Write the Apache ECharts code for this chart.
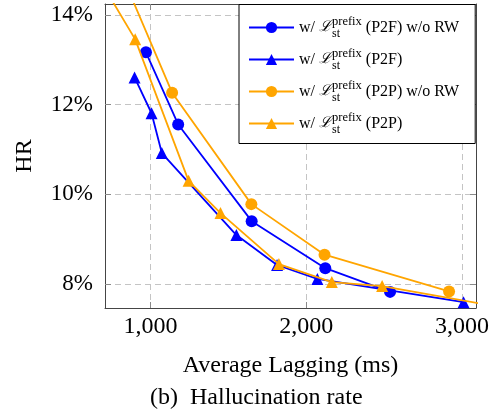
<!DOCTYPE html>
<html>
<head>
<meta charset="utf-8">
<script src="https://cdn.jsdelivr.net/npm/echarts@6/dist/echarts.min.js"></script>
<style>
html,body{margin:0;padding:0;background:#fff;}
#chart{width:492px;height:414px;}
</style>
</head>
<body>
<div id="chart"></div>
<script>
// Data
const p2fNoRW_x = [970, 1177, 1649, 2122, 2538];
const p2fNoRW_y = [13.17, 11.56, 9.40, 8.35, 7.82];
const p2f_x = [897, 1006, 1072, 1551, 1812, 2071, 3010];
const p2f_y = [12.61, 11.81, 10.92, 9.09, 8.42, 8.11, 7.59];
const p2pNoRW_x = [850, 1138, 1647, 2117, 2917];
const p2pNoRW_y = [14.62, 12.27, 9.78, 8.65, 7.83];
const p2p_x = [740, 901, 1244, 1449, 1824, 2164, 2487, 3150];
const p2p_y = [14.4, 13.46, 10.30, 9.58, 8.44, 8.04, 7.95, 7.54];

const xTicks = [1000, 2000, 3000];
const yTicks = [8, 10, 12, 14];
const seriesSuffix = ['(P2F) w/o RW', '(P2F)', '(P2P) w/o RW', '(P2P)'];
const seriesNames = seriesSuffix.map(s => 'w/ L_st^prefix ' + s);
const xName = 'Average Lagging (ms)';
const yName = 'HR';
const caption = '(b)  Hallucination rate';

const FONT = 'Liberation Serif';
const BLUE = '#0000ff';
const ORANGE = '#ffa500';

function pairs(xs, ys) { return xs.map((x, i) => [x, ys[i]]); }

const frameColor = '#454545';
const tickColor = '#8a8a8a';
const gridColor = '#c4c4c4';

function mkSeries(i, xs, ys, color, symbol, size) {
  return {
    name: seriesNames[i], type: 'line', data: pairs(xs, ys),
    symbol: symbol, symbolSize: size, showSymbol: true,
    lineStyle: { color: color, width: 1.8 },
    itemStyle: { color: color },
    clip: true, animation: false, z: 2 + i
  };
}

const chart = echarts.init(document.getElementById('chart'), null, { renderer: 'canvas' });
const option = {
  animation: false,
  backgroundColor: '#fff',
  grid: { left: 105, top: 4, right: 15.5, bottom: 106, containLabel: false },
  title: {
    text: caption, left: 150, top: 386,
    textStyle: { fontFamily: FONT, fontSize: 24, fontWeight: 'normal', color: '#000' },
    padding: 0
  },
  legend: {
    orient: 'vertical', left: 239, top: 4.5,
    backgroundColor: '#fff', borderColor: '#000', borderWidth: 1,
    padding: [11, 16, 8, 9],
    itemWidth: 45, itemHeight: 14, itemGap: 8,
    data: seriesNames,
    formatter: function (name) {
      const i = seriesNames.indexOf(name);
      return '{t|w/ }{l|\u2112}{sub|st}{sup|prefix}{t| ' + seriesSuffix[i] + '}';
    },
    textStyle: {
      fontFamily: FONT, fontSize: 16, color: '#000',
      rich: {
        t: { fontFamily: FONT, fontSize: 16, lineHeight: 24, verticalAlign: 'middle' },
        l: { fontFamily: 'DejaVu Serif', fontSize: 15, fontStyle: 'italic', lineHeight: 24, verticalAlign: 'middle', padding: [0, 1, 0, 0] },
        sub: { fontFamily: FONT, fontSize: 12, lineHeight: 14, verticalAlign: 'bottom', width: 0 },
        sup: { fontFamily: FONT, fontSize: 12.5, lineHeight: 12, verticalAlign: 'top' }
      }
    }
  },
  xAxis: [{
    type: 'value', min: 707, max: 3090, position: 'bottom',
    name: xName, nameLocation: 'middle', nameGap: 46,
    nameTextStyle: { fontFamily: FONT, fontSize: 24, color: '#000' },
    axisLine: { show: true, onZero: false, lineStyle: { color: frameColor, width: 1 } },
    axisTick: { show: true, inside: true, length: 6, customValues: xTicks, lineStyle: { color: tickColor, width: 1 } },
    axisLabel: { show: true, customValues: xTicks, margin: 7, fontFamily: FONT, fontSize: 24, color: '#000',
      formatter: v => v.toLocaleString('en-US') },
    splitLine: { show: true, lineStyle: { color: gridColor, width: 1, type: [6, 4] } }
  }, {
    type: 'value', min: 707, max: 3090, position: 'top',
    axisLine: { show: true, onZero: false, lineStyle: { color: frameColor, width: 1 } },
    axisTick: { show: true, inside: true, length: 6, customValues: xTicks, lineStyle: { color: tickColor, width: 1 } },
    axisLabel: { show: false, customValues: xTicks },
    splitLine: { show: false }
  }],
  yAxis: [{
    type: 'value', min: 7.46, max: 14.25, position: 'left',
    name: yName, nameLocation: 'middle', nameGap: 68, nameRotate: 90,
    nameTextStyle: { fontFamily: FONT, fontSize: 24, color: '#000' },
    axisLine: { show: true, onZero: false, lineStyle: { color: frameColor, width: 1 } },
    axisTick: { show: true, inside: true, length: 6, customValues: yTicks, lineStyle: { color: tickColor, width: 1 } },
    axisLabel: { show: true, customValues: yTicks, margin: 12, fontFamily: FONT, fontSize: 23, color: '#000',
      formatter: v => v + '%' },
    splitLine: { show: true, lineStyle: { color: gridColor, width: 1, type: [6, 4] } }
  }, {
    type: 'value', min: 7.46, max: 14.25, position: 'right',
    axisLine: { show: true, onZero: false, lineStyle: { color: frameColor, width: 1 } },
    axisTick: { show: true, inside: true, length: 6, customValues: yTicks, lineStyle: { color: tickColor, width: 1 } },
    axisLabel: { show: false, customValues: yTicks },
    splitLine: { show: false }
  }],
  series: [
    mkSeries(0, p2fNoRW_x, p2fNoRW_y, BLUE, 'circle', 12),
    mkSeries(1, p2f_x, p2f_y, BLUE, 'triangle', 12),
    mkSeries(2, p2pNoRW_x, p2pNoRW_y, ORANGE, 'circle', 12),
    mkSeries(3, p2p_x, p2p_y, ORANGE, 'triangle', 12)
  ]
};
chart.setOption(option);
</script>
</body>
</html>
